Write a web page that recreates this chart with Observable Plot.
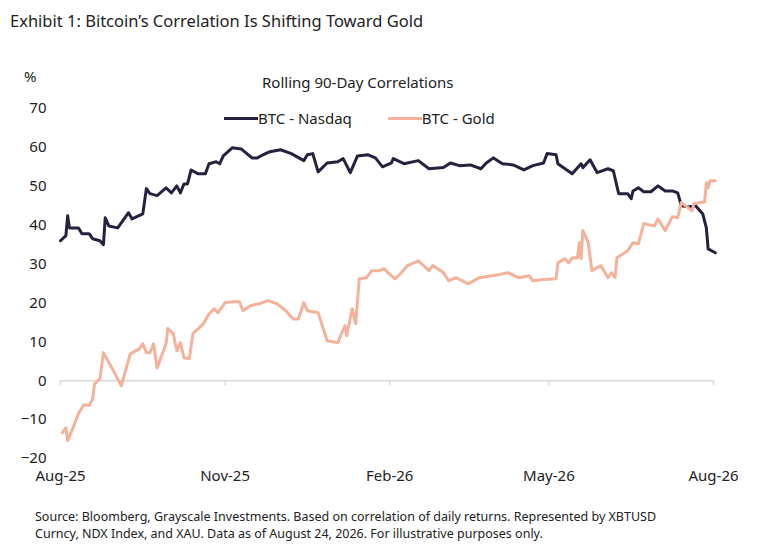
<!DOCTYPE html>
<html><head><meta charset="utf-8">
<script src="https://cdn.jsdelivr.net/npm/d3@7"></script>
<script src="https://cdn.jsdelivr.net/npm/@observablehq/plot@0.6"></script>
<style>
body{margin:0;background:#fff;font-family:"Noto Sans",sans-serif;color:#222;}
#wrap{position:relative;width:768px;height:548px;}
.t{position:absolute;white-space:nowrap;}
</style></head><body>
<div id="wrap">
<div class="t" style="left:10px;top:9px;font-size:16.5px;">Exhibit 1: Bitcoin’s Correlation Is Shifting Toward Gold</div>
<div class="t" style="left:24px;top:66px;font-size:15px;">%</div>
<div class="t" style="left:262px;top:72px;font-size:15px;">Rolling 90-Day Correlations</div>
<div class="t" id="leg" style="left:224px;top:108px;font-size:15px;display:flex;align-items:center;gap:6px;"></div>
<div class="t" style="left:35px;top:508px;font-size:12.5px;line-height:17px;">Source: Bloomberg, Grayscale Investments. Based on correlation of daily returns. Represented by XBTUSD<br>Curncy, NDX Index, and XAU. Data as of August 24, 2026. For illustrative purposes only.</div>
<div id="chart"></div>
</div>
<script>
const seriesNames = ["BTC - Nasdaq", "BTC - Gold"];
const colors = ["#27213f", "#f4b29a"];
const tickLabels = ["Aug-25","Nov-25","Feb-26","May-26","Aug-26"];
const tickDates = ["2025-08-01","2025-11-01","2026-02-01","2026-05-01","2026-08-01"];
// day offsets from 2025-08-01
const nasdaqDays = [0,3,4,5,10,12,16,18,22,24,25,27,32,38,40,46,48,50,54,59,62,65,67,69,71,73,77,81,83,87,89,91,96,101,107,110,112,117,123,129,136,138,141,144,149,155,158,162,166,172,176,180,185,186,192,200,206,214,218,223,229,235,238,242,247,253,259,264,270,272,277,278,283,286,291,292,296,300,306,309,312,317,319,320,323,326,330,334,338,342,345,347,351,355,359,361,362,366];
const nasdaqVals = [36,37.3,42.4,39.3,39.3,37.8,37.8,36.5,36,35,41.9,39.8,39.3,43.2,41.6,42.9,49.4,48.1,47.6,49.6,48.3,50.1,48.3,50.6,50.6,54.2,53.2,53.2,55.8,56.3,55.8,57.8,59.9,59.6,57.3,57.3,57.8,58.9,59.4,58.4,56.6,58.1,58.4,53.7,56,56.3,57.1,53.5,57.8,58.1,57.3,55,56,57.1,55.8,56.6,54.5,54.8,56,55.3,55.5,54.5,56,57.3,55.8,55.5,54.2,55.3,56,58.4,58.1,55.8,54.2,53.2,55.8,54.8,56.8,53.5,54.5,54,48.1,48.1,46.8,48.8,49.6,48.6,48.6,50.1,48.8,48.8,48.3,45,44.7,45,42.9,39.3,33.9,32.9];
const goldDays = [1,3,4,7,10,13,16,18,19,22,24,28,31,34,39,44,46,48,50,52,54,59,60,63,65,67,69,72,74,77,80,83,86,88,92,97,100,102,106,111,116,121,126,130,133,136,138,144,149,155,157,159,160,163,165,167,171,174,178,181,183,185,187,190,194,200,206,208,214,217,221,228,234,244,250,256,262,264,270,277,278,282,284,286,289,290,291,292,295,297,302,306,308,310,311,317,320,323,326,332,334,338,342,345,347,353,354,360,361,362,363,366];
const goldVals = [-13.4,-12.1,-15.4,-12.1,-8.5,-6.2,-6.4,-4.6,-0.8,0.5,7.2,3.9,1.3,-1.3,6.9,8.2,9.5,7.2,7.2,9.5,3.3,9.5,13.4,12.1,7.7,9.8,5.9,5.7,12.1,13.4,14.7,17.2,18.5,17.5,20.1,20.3,20.3,18,19.3,19.8,20.6,19.8,18,15.9,15.9,20.1,18,17.5,10.3,9.8,12.1,14.1,11.6,18.5,14.7,26.2,26.5,28.3,28.3,28.8,27.8,27,26.2,27.5,29.6,30.8,28.3,29.6,27.8,25.7,26.5,24.9,26.5,27.2,27.8,26.5,27,25.7,26,26.2,30.3,31.4,30.3,31.6,31.6,35.5,31.4,38.6,35.5,28.3,29.6,26.5,27.8,26.5,31.6,33.4,35.5,35.2,40.4,39.8,41.6,38.6,42.2,41.9,45.8,43.7,45.5,46,50.9,49.6,51.4,51.4];
const yTicks = [-20,-10,0,10,20,30,40,50,60,70];

const start = new Date(2025,7,1);
const toDate = d => new Date(start.getTime() + d*86400000);
const data = [
  ...nasdaqDays.map((d,i)=>({date:toDate(d), v:nasdaqVals[i], s:seriesNames[0]})),
  ...goldDays.map((d,i)=>({date:toDate(d), v:goldVals[i], s:seriesNames[1]}))
];
const ticks = tickDates.map(s=>{const [y,m,d]=s.split("-").map(Number);return new Date(y,m-1,d);});

const leg = document.getElementById("leg");
seriesNames.forEach((n,i)=>{
  leg.insertAdjacentHTML("beforeend",`<span style="display:inline-block;width:34px;height:3px;background:${colors[i]};margin-left:${i?30:0}px"></span><span style="margin-left:-6px">${n}</span>`);
});

const chart = Plot.plot({
  width:768, height:500,
  marginTop:108, marginBottom:42, marginLeft:60, marginRight:55,
  style:{fontFamily:"Noto Sans, sans-serif", fontSize:"15px", color:"#222"},
  x:{type:"time", domain:[ticks[0], ticks[4]], ticks:ticks, tickFormat:(d,i)=>tickLabels[i], tickSize:0, tickPadding:12, label:null},
  y:{domain:[-20,70], ticks:yTicks, tickSize:0, tickPadding:14, label:null},
  color:{domain:seriesNames, range:colors},
  marks:[
    Plot.ruleY([0],{stroke:"#d9d9d9", strokeWidth:1.5}),
    Plot.ruleX(ticks,{y1:0, y2:-1.3, stroke:"#d9d9d9", strokeWidth:1.5}),
    Plot.line(data,{x:"date", y:"v", stroke:"s", z:"s", strokeWidth:3, curve:"linear"})
  ]
});
document.getElementById("chart").appendChild(chart);
</script>
</body></html>
